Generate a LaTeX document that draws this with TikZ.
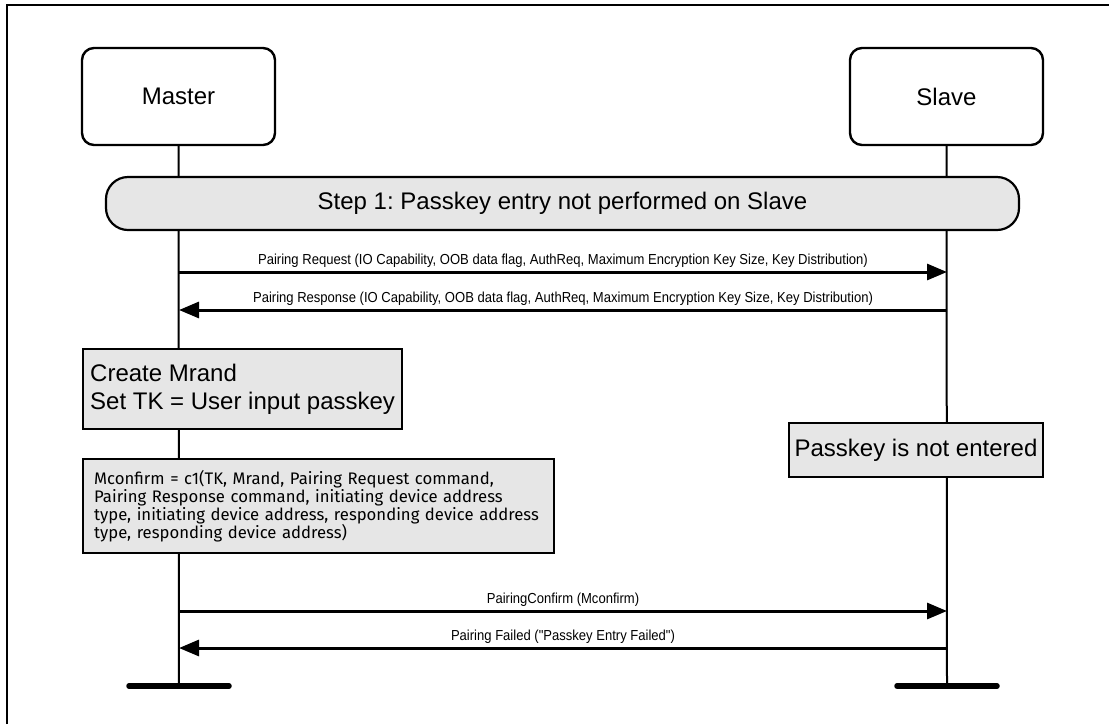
\documentclass[tikz,border=0pt]{standalone}
\usepackage{fontspec}
\setmainfont{Liberation Sans}
\newfontfamily\msgfont{Liberation Sans}[FakeStretch=0.9]
\newfontfamily\calcfont{Fira Sans}
\usepackage{tikz}
\usetikzlibrary{arrows.meta}
\definecolor{boxgray}{HTML}{E6E6E6}
\frenchspacing

\begin{document}
\begin{tikzpicture}[
				x=1pt, y=-1pt,
				actor style/.style={
					draw,
					line width=2.4pt,
					rounded corners=12pt,
					minimum width=193pt,
					minimum height=97pt,
					font=\fontsize{24}{28}\selectfont
				},
				step style/.style={
					draw,
					fill=boxgray,
					line width=2.2pt,
					rounded corners=22pt,
					minimum width=913pt,
					minimum height=53pt,
					font=\fontsize{24}{28}\selectfont
				},
				action style/.style={
					draw,
					fill=boxgray,
					line width=2.4pt,
					align=left,
					anchor=north west
				},
				msg style/.style={
					font=\msgfont\fontsize{14.5}{16}\selectfont,
					inner sep=0pt,
					anchor=base,
					yshift=8pt
				},
				life style/.style={line width=2pt},
				end style/.style={line width=5.5pt, line cap=round},
				msg/.style={->, line width=3pt},
				>={Triangle[length=20pt,width=16pt]}
				]
				
				\useasboundingbox (0,0) rectangle (1109,724);
				\draw[line width=2.5pt] (7,724) -- (7,5) -- (1109,5);
				
				\node[actor style] (master) at (178.5,96.5) {Master};
				\node[actor style] (slave) at (946.5,96.5) {Slave};
				
				\coordinate (masterEnd) at (179,686);
				\coordinate (slaveEnd) at (947,686);
				\draw[life style] (master.south) -- (masterEnd);
				\draw[life style] (slave.south) -- (slaveEnd);
				\draw[end style] ([xshift=-50pt]masterEnd) -- ([xshift=50pt]masterEnd);
				\draw[end style] ([xshift=-50pt]slaveEnd) -- ([xshift=50pt]slaveEnd);
				
				\node[step style] (step1) at (562.5,203.5) 
				{Step 1: Passkey entry not performed on Slave};
				
				\coordinate (reqM) at (179,272);
				\coordinate (reqS) at (947,272);
				\coordinate (rspM) at (179,310);
				\coordinate (rspS) at (947,310);
				\draw[msg] (reqM) -- (reqS) node[msg style, midway] 
				{Pairing Request (IO Capability, OOB data flag, AuthReq, Maximum Encryption Key Size, Key Distribution)};
				\draw[msg] (rspS) -- (rspM) node[msg style, midway] 
				{Pairing Response (IO Capability, OOB data flag, AuthReq, Maximum Encryption Key Size, Key Distribution)};
				
				\node[action style, inner xsep=7pt, minimum width=318pt, minimum height=80pt,
				font=\fontsize{24}{28.5}\selectfont] (mrand) at (82,348) 
				{Create Mrand\\Set TK = User input passkey};
				
				\node[action style, inner xsep=11pt, text width=449pt, minimum height=94pt,
				font=\calcfont\fontsize{16.7}{18}\selectfont] (mconfirm) at (82,458) 
				{Mconfirm = c1(TK, Mrand, Pairing Request command,\\
				Pairing Response command, initiating device address\\
				type, initiating device address, responding device address\\
				type, responding device address)};
				
				\node[draw, fill=boxgray, line width=2.4pt, minimum width=254pt, minimum height=54pt,
				font=\fontsize{24}{28}\selectfont] (notentered) at (916,450) 
				{Passkey is not entered};
				
				\coordinate (cfmM) at (179,611);
				\coordinate (cfmS) at (947,611);
				\coordinate (failM) at (179,648);
				\coordinate (failS) at (947,648);
				\draw[msg] (cfmM) -- (cfmS) node[msg style, midway] 
				{PairingConfirm (Mconfirm)};
				\draw[msg] (failS) -- (failM) node[msg style, midway] 
				{Pairing Failed ("Passkey Entry Failed")};
				
\end{tikzpicture}
\end{document}
